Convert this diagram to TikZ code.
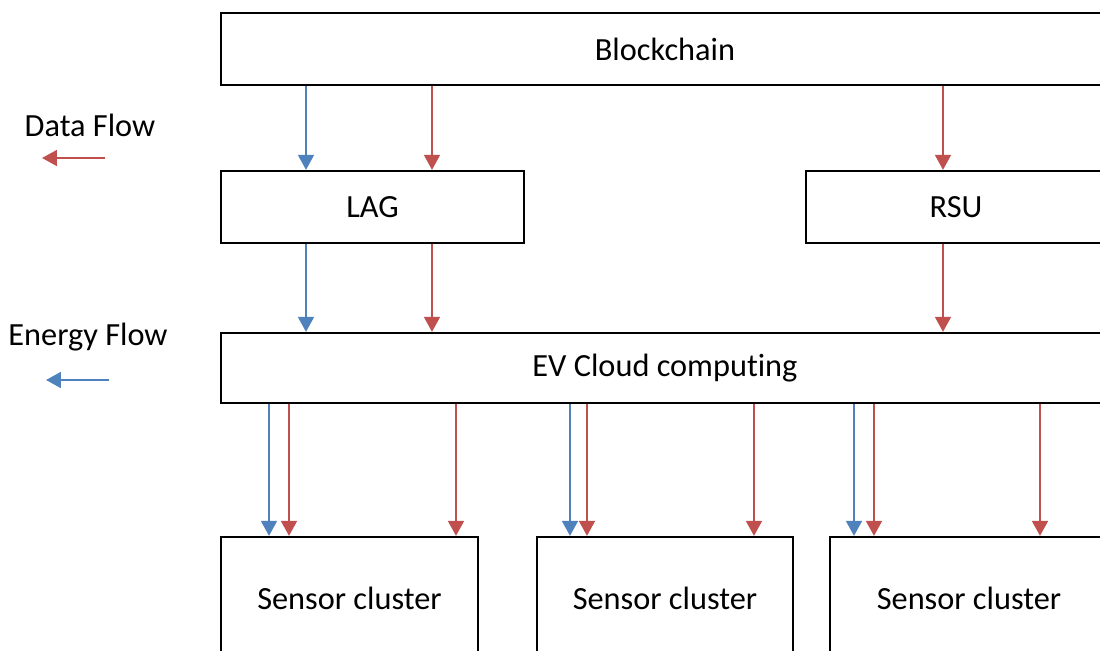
\documentclass[tikz,border=0pt]{standalone}
\usepackage{fontspec}
\setmainfont{Carlito}[Ligatures=NoCommon]
\usepackage{xcolor}
\usetikzlibrary{arrows.meta,positioning}
\definecolor{dred}{HTML}{C0504D}
\definecolor{eblue}{HTML}{4F81BD}
\tikzset{
  cbox/.style={draw=black, line width=1.3pt, align=center, font=\fontsize{18.4}{22}\selectfont, inner sep=0pt},
  lbl/.style={font=\fontsize{18.4}{22}\selectfont, inner sep=0pt},
  dflow/.style={-{Triangle[width=9pt,length=8.5pt]}, line width=1.2pt, draw=dred},
  eflow/.style={-{Triangle[width=9pt,length=8.5pt]}, line width=1.2pt, draw=eblue}
}

\begin{document}
\begin{tikzpicture}[x=0.02cm,y=-0.02cm]
\useasboundingbox (0,0) rectangle (1100,650);
\clip (0,0) rectangle (1100,650);
% layers
\node[cbox, minimum width=17.76cm, minimum height=1.44cm] (bc) at (665,49) {Blockchain};
\node[cbox, minimum width=6.06cm, minimum height=1.44cm] (lag) at (372.5,207) {LAG};
\node[cbox, minimum width=6cm, minimum height=1.44cm] (rsu) at (956,207) {RSU};
\node[cbox, minimum width=17.76cm, minimum height=1.40cm] (ev) at (665,368) {EV Cloud computing};
\node[cbox, minimum width=5.14cm, minimum height=2.44cm] (sc1) at (349.5,598) {Sensor cluster};
\node[cbox, minimum width=5.12cm, minimum height=2.44cm] (sc2) at (665,598) {Sensor cluster};
\node[cbox, minimum width=5.56cm, minimum height=2.44cm] (sc3) at (969,598) {Sensor cluster};
% legend
\node[lbl] (dlab) at (90,125) {Data Flow};
\coordinate (d0) at (105,158);
\coordinate (d1) at (42,158);
\draw[dflow] (d0) -- (d1);
\node[lbl] (elab) at (88,337) {Energy Flow};
\coordinate (e0) at (109,380);
\coordinate (e1) at (46,380);
\draw[eflow] (e0) -- (e1);
% blockchain to LAG / RSU
\draw[eflow] (bc.south -| 306,0) -- (lag.north -| 306,0);
\draw[dflow] (bc.south -| 432,0) -- (lag.north -| 432,0);
\draw[dflow] (bc.south -| 943,0) -- (rsu.north -| 943,0);
% LAG / RSU to cloud
\draw[eflow] (lag.south -| 306,0) -- (ev.north -| 306,0);
\draw[dflow] (lag.south -| 432,0) -- (ev.north -| 432,0);
\draw[dflow] (rsu.south -| 943,0) -- (ev.north -| 943,0);
% cloud to sensor clusters
\draw[eflow] (ev.south -| 269,0) -- (sc1.north -| 269,0);
\draw[dflow] (ev.south -| 289,0) -- (sc1.north -| 289,0);
\draw[dflow] (ev.south -| 456,0) -- (sc1.north -| 456,0);
\draw[eflow] (ev.south -| 570,0) -- (sc2.north -| 570,0);
\draw[dflow] (ev.south -| 587,0) -- (sc2.north -| 587,0);
\draw[dflow] (ev.south -| 754,0) -- (sc2.north -| 754,0);
\draw[eflow] (ev.south -| 854,0) -- (sc3.north -| 854,0);
\draw[dflow] (ev.south -| 874,0) -- (sc3.north -| 874,0);
\draw[dflow] (ev.south -| 1040,0) -- (sc3.north -| 1040,0);
\end{tikzpicture}
\end{document}
